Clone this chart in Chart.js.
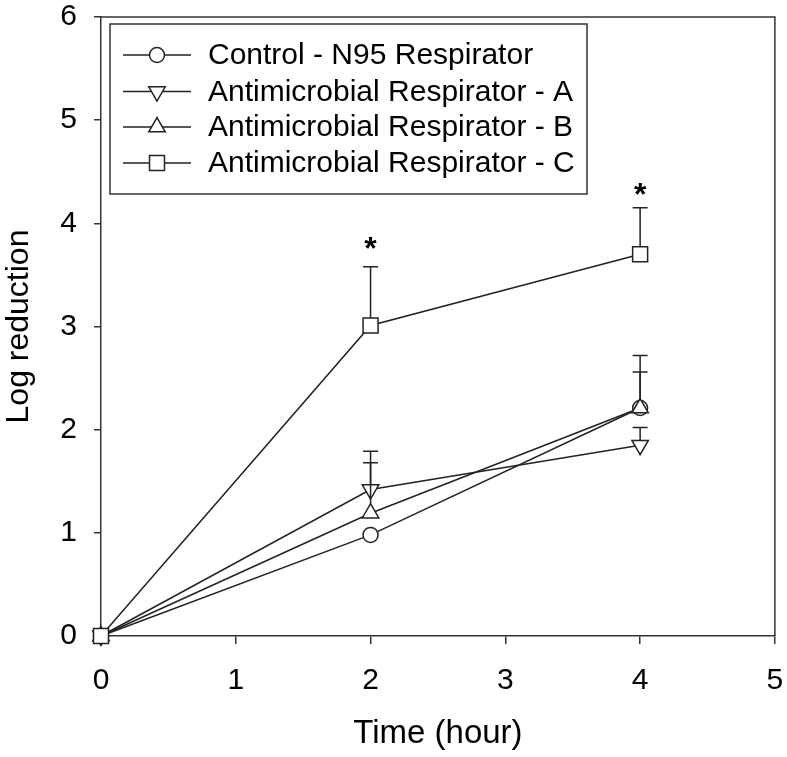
<!DOCTYPE html>
<html>
<head>
<meta charset="utf-8">
<script src="https://cdn.jsdelivr.net/npm/chart.js@4.4.1/dist/chart.umd.min.js"></script>
<style>
  html, body { margin: 0; padding: 0; background: #ffffff; }
  #wrap { width: 787px; height: 757px; position: relative; }
</style>
</head>
<body>
<div id="wrap"><canvas id="c" width="787" height="757"></canvas></div>
<script>
// ---- Data ----
const timesHours = [0, 2, 4];
const seriesNames = [
  'Control - N95 Respirator',
  'Antimicrobial Respirator - A',
  'Antimicrobial Respirator - B',
  'Antimicrobial Respirator - C'
];
const controlValues = [0, 0.98, 2.21];
const controlErrors = [0, 0.03, 0.35];
const respAValues = [0, 1.42, 1.85];
const respAErrors = [0, 0.37, 0.17];
const respBValues = [0, 1.19, 2.21];
const respBErrors = [0, 0.49, 0.51];
const respCValues = [0, 3.01, 3.70];
const respCErrors = [0, 0.57, 0.45];
const starTimes = [2, 4];
const starValues = [3.80, 4.32];
const xTickValues = [0, 1, 2, 3, 4, 5];
const yTickValues = [0, 1, 2, 3, 4, 5, 6];
const xTitle = 'Time (hour)';
const yTitle = 'Log reduction';

// ---- Styles ----
const INK = '#222222';
const AXIS = '#333333';
const FONT = "'Liberation Sans', Arial, Helvetica, sans-serif";
const markers = [
  { style: 'circle', rotation: 0, radius: 7.5, top: 7.5 },
  { style: 'triangle', rotation: 180, radius: 9.5, top: 4.8 },
  { style: 'triangle', rotation: 0, radius: 9.5, top: 9.5 },
  { style: 'rect', rotation: 0, radius: 10.6, top: 7.5 }
];
const allValues = [controlValues, respAValues, respBValues, respCValues];
const allErrors = [controlErrors, respAErrors, respBErrors, respCErrors];

function toPoints(vals) { return timesHours.map((t, i) => ({ x: t, y: vals[i] })); }

const datasets = seriesNames.map((name, i) => ({
  label: name,
  data: toPoints(allValues[i]),
  borderColor: INK,
  borderWidth: 1.5,
  backgroundColor: '#ffffff',
  pointStyle: markers[i].style,
  pointRotation: markers[i].rotation,
  pointRadius: markers[i].radius,
  pointHoverRadius: markers[i].radius,
  pointBorderColor: INK,
  pointBackgroundColor: '#ffffff',
  pointBorderWidth: 1.5,
  tension: 0,
  fill: false,
  clip: false,
  order: 3 - i
}));

function drawMarker(ctx, style, rotation, r, x, y) {
  ctx.save();
  ctx.translate(x, y);
  ctx.rotate(rotation * Math.PI / 180);
  ctx.beginPath();
  if (style === 'circle') {
    ctx.arc(0, 0, r, 0, Math.PI * 2);
  } else if (style === 'triangle') {
    ctx.moveTo(0, -r);
    ctx.lineTo(r * Math.sin(Math.PI / 3), r * 0.5);
    ctx.lineTo(-r * Math.sin(Math.PI / 3), r * 0.5);
    ctx.closePath();
  } else {
    const s = r * Math.SQRT1_2;
    ctx.rect(-s, -s, 2 * s, 2 * s);
  }
  ctx.fillStyle = '#ffffff';
  ctx.fill();
  ctx.strokeStyle = INK;
  ctx.lineWidth = 1.5;
  ctx.stroke();
  ctx.restore();
}

const framePlugin = {
  id: 'frame',
  afterDraw(chart) {
    const { ctx, chartArea: a } = chart;
    ctx.save();
    ctx.strokeStyle = AXIS;
    ctx.lineWidth = 1.5;
    ctx.beginPath();
    ctx.moveTo(a.left, a.top);
    ctx.lineTo(a.right, a.top);
    ctx.lineTo(a.right, a.bottom);
    ctx.stroke();
    ctx.restore();
  }
};

const errorBarPlugin = {
  id: 'errorBars',
  afterDatasetsDraw(chart) {
    const { ctx, scales } = chart;
    const xs = scales.x, ys = scales.y;
    ctx.save();
    ctx.strokeStyle = INK;
    ctx.lineWidth = 1.5;
    allValues.forEach((vals, si) => {
      vals.forEach((v, i) => {
        const e = allErrors[si][i];
        if (!e) return;
        const px = xs.getPixelForValue(timesHours[i]);
        const py = ys.getPixelForValue(v);
        const pTop = ys.getPixelForValue(v + e);
        const start = py - markers[si].top;
        if (pTop >= start) return;
        ctx.beginPath();
        ctx.moveTo(px, start);
        ctx.lineTo(px, pTop);
        ctx.moveTo(px - 7.5, pTop);
        ctx.lineTo(px + 7.5, pTop);
        ctx.stroke();
      });
    });
    // significance asterisks
    ctx.fillStyle = '#000';
    ctx.font = 'bold 32px ' + FONT;
    ctx.textAlign = 'center';
    ctx.textBaseline = 'middle';
    starTimes.forEach((t, i) => {
      ctx.fillText('*', xs.getPixelForValue(t), ys.getPixelForValue(starValues[i]) + 6);
    });
    ctx.restore();
  }
};

const legendPlugin = {
  id: 'boxLegend',
  afterDraw(chart) {
    const { ctx } = chart;
    const box = { left: 110, top: 24, right: 587, bottom: 194 };
    ctx.save();
    ctx.strokeStyle = AXIS;
    ctx.lineWidth = 1.5;
    ctx.strokeRect(box.left, box.top, box.right - box.left, box.bottom - box.top);
    const rowY = [55, 91.5, 127, 163];
    ctx.font = '30px ' + FONT;
    ctx.textAlign = 'left';
    ctx.textBaseline = 'middle';
    seriesNames.forEach((name, i) => {
      const y = rowY[i];
      ctx.strokeStyle = INK;
      ctx.lineWidth = 1.5;
      ctx.beginPath();
      ctx.moveTo(123, y);
      ctx.lineTo(191, y);
      ctx.stroke();
      const m = markers[i];
      drawMarker(ctx, m.style, m.rotation, m.radius, 157, y);
      ctx.fillStyle = '#000';
      ctx.fillText(name, 208, y + 1);
    });
    ctx.restore();
  }
};

new Chart(document.getElementById('c'), {
  type: 'line',
  data: { datasets },
  options: {
    responsive: false,
    animation: false,
    devicePixelRatio: 1,
    layout: { padding: { top: 17, right: 8, left: 0, bottom: 0 } },
    plugins: { legend: { display: false }, tooltip: { enabled: false } },
    scales: {
      x: {
        type: 'linear',
        min: 0, max: 5,
        afterFit(scale) { scale.height = 121; scale.paddingLeft = 0; scale.paddingRight = 0; },
        afterBuildTicks(scale) { scale.ticks = xTickValues.map(v => ({ value: v })); },
        grid: { display: true, drawOnChartArea: false, drawTicks: true, tickLength: 8, color: AXIS, lineWidth: 1.5 },
        border: { display: true, color: AXIS, width: 1.5 },
        ticks: { color: '#000', font: { family: FONT, size: 30, lineHeight: 1.0 }, padding: 22, maxRotation: 0 },
        title: { display: true, text: xTitle, color: '#000', font: { family: FONT, size: 33, lineHeight: 1.2 }, padding: { top: 0, bottom: 3 } }
      },
      y: {
        type: 'linear',
        min: 0, max: 6,
        afterFit(scale) { scale.width = 101; scale.paddingTop = 0; scale.paddingBottom = 0; },
        afterBuildTicks(scale) { scale.ticks = yTickValues.map(v => ({ value: v })); },
        grid: { display: true, drawOnChartArea: false, drawTicks: true, tickLength: 7, color: AXIS, lineWidth: 1.5 },
        border: { display: true, color: AXIS, width: 1.5 },
        ticks: { color: '#000', font: { family: FONT, size: 30, lineHeight: 1.0 }, padding: 17 },
        title: { display: true, text: yTitle, color: '#000', font: { family: FONT, size: 32, lineHeight: 1.2 }, padding: { top: 0, bottom: 0 } }
      }
    }
  },
  plugins: [framePlugin, errorBarPlugin, legendPlugin]
});
</script>
</body>
</html>
